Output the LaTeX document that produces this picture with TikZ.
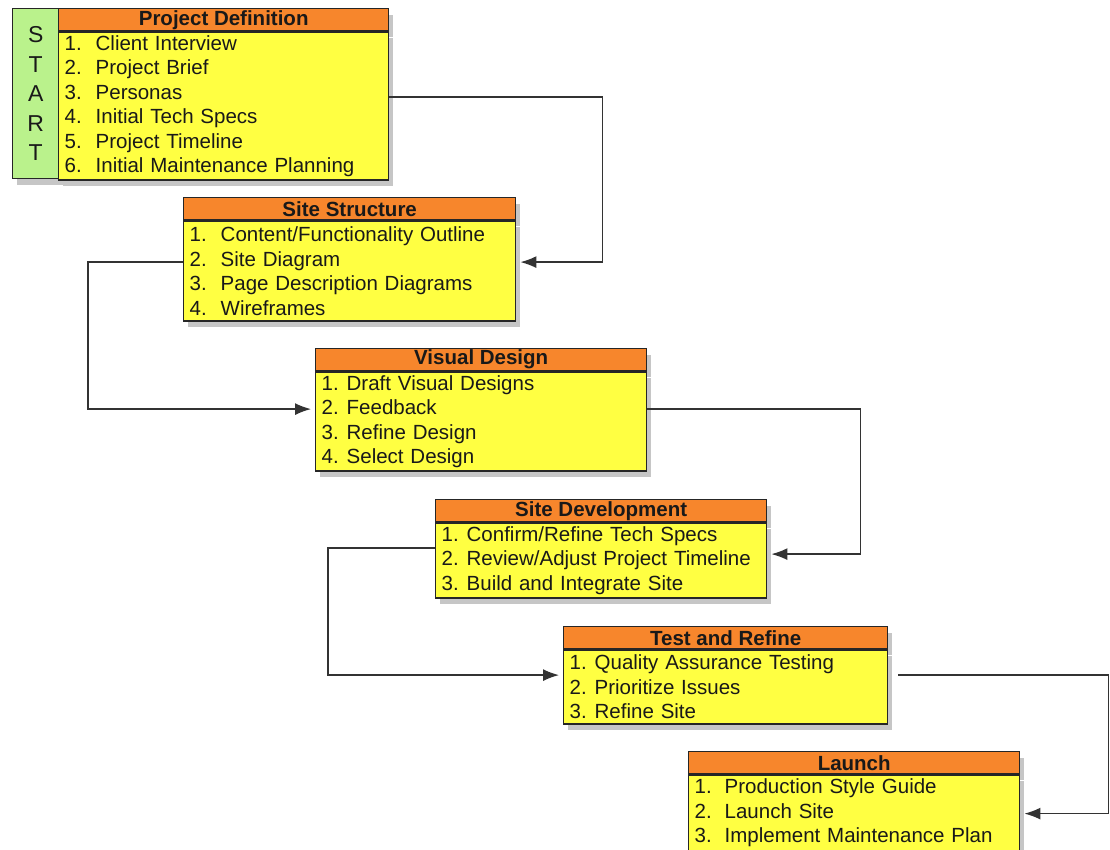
\documentclass[tikz,border=0pt]{standalone}
\usepackage{fontspec}
\setmainfont{Liberation Sans}
\usetikzlibrary{arrows.meta,shadows}
\definecolor{headorange}{HTML}{F7862C}
\definecolor{bodyyellow}{HTML}{FFFF42}
\definecolor{startgreen}{HTML}{BAF28C}
% numbered entry of a list: number in a fixed box, then the text
\newcommand{\itm}[3][31pt]{\makebox[#1][l]{#2}#3}
\tikzset{
  box/.style={draw=black!85, line width=1.4pt, rectangle, inner sep=0pt,
    drop shadow={shadow xshift=4pt, shadow yshift=-6pt, opacity=0.45}},
  head/.style={box, fill=headorange, minimum height=22pt, anchor=north west,
    font=\fontsize{20.5}{24}\selectfont\bfseries, text=black!90},
  body/.style={box, fill=bodyyellow, anchor=north, align=left, inner xsep=6pt,
    font=\fontsize{20.5}{24.5}\selectfont, text=black!90},
  startbox/.style={box, fill=startgreen, anchor=north west, align=center,
    font=\fontsize{23}{29.5}\selectfont, text=black!90},
  link/.style={draw=black!80, line width=1.4pt, -{Latex[length=16pt,width=12pt]},
    shorten >=4pt},
}
\begin{document}
\begin{tikzpicture}[x=1pt, y=-1pt]
  \useasboundingbox (0,0) rectangle (1110,849);
  % start and project definition
  \node[startbox, minimum width=46pt, minimum height=170pt] (start) at (12,8) {S\\T\\A\\R\\T};
  \node[head, minimum width=330pt] (pdhead) at (58,8) {Project Definition};
  \node[body, text width=318pt, minimum height=148pt] (pd) at (pdhead.south) {%
    \itm{1.}{Client Interview}\\
    \itm{2.}{Project Brief}\\
    \itm{3.}{Personas}\\
    \itm{4.}{Initial Tech Specs}\\
    \itm{5.}{Project Timeline}\\
    \itm{6.}{Initial Maintenance Planning}};
  % site structure
  \node[head, minimum width=332pt] (sshead) at (183,197) {Site Structure};
  \node[body, text width=320pt, minimum height=100pt] (ss) at (sshead.south) {%
    \itm{1.}{Content/Functionality Outline}\\
    \itm{2.}{Site Diagram}\\
    \itm{3.}{Page Description Diagrams}\\
    \itm{4.}{Wireframes}};
  % visual design
  \node[head, minimum width=331pt] (vdhead) at (315,348) {Visual Design};
  \node[body, text width=319pt, minimum height=99pt] (vd) at (vdhead.south) {%
    \itm[25pt]{1.}{Draft Visual Designs}\\
    \itm[25pt]{2.}{Feedback}\\
    \itm[25pt]{3.}{Refine Design}\\
    \itm[25pt]{4.}{Select Design}};
  % site development
  \node[head, minimum width=331pt] (sdhead) at (435,499) {Site Development};
  \node[body, text width=319pt, minimum height=75pt] (sd) at (sdhead.south) {%
    \itm[25pt]{1.}{Confirm/Refine Tech Specs}\\
    \itm[25pt]{2.}{Review/Adjust Project Timeline}\\
    \itm[25pt]{3.}{Build and Integrate Site}};
  % test and refine
  \node[head, minimum width=324pt] (trhead) at (563,626) {Test and Refine};
  \node[body, text width=312pt, minimum height=74pt] (tr) at (trhead.south) {%
    \itm[25pt]{1.}{Quality Assurance Testing}\\
    \itm[25pt]{2.}{Prioritize Issues}\\
    \itm[25pt]{3.}{Refine Site}};
  % launch
  \node[head, minimum width=331pt] (lahead) at (688,751) {Launch};
  \node[body, text width=319pt, minimum height=76pt] (la) at (lahead.south) {%
    \itm[30pt]{1.}{Production Style Guide}\\
    \itm[30pt]{2.}{Launch Site}\\
    \itm[30pt]{3.}{Implement Maintenance Plan}};
  % connectors
  \draw[link] ([yshift=9pt]pd.east) -- ++(213,0) |- ([yshift=9pt]ss.east);
  \draw[link] ([yshift=9pt]ss.west) -- ++(-95,0) |- ([yshift=12.5pt]vd.west);
  \draw[link] ([yshift=12.5pt]vd.east) -- ++(213,0) |- ([yshift=6.5pt]sd.east);
  \draw[link] ([yshift=12.5pt]sd.west) -- ++(-107,0) |- ([yshift=12pt]tr.west);
  \draw[link] ([xshift=10pt,yshift=12pt]tr.east) -- ++(210,0) |- ([yshift=-0.5pt]la.east);
\end{tikzpicture}
\end{document}
